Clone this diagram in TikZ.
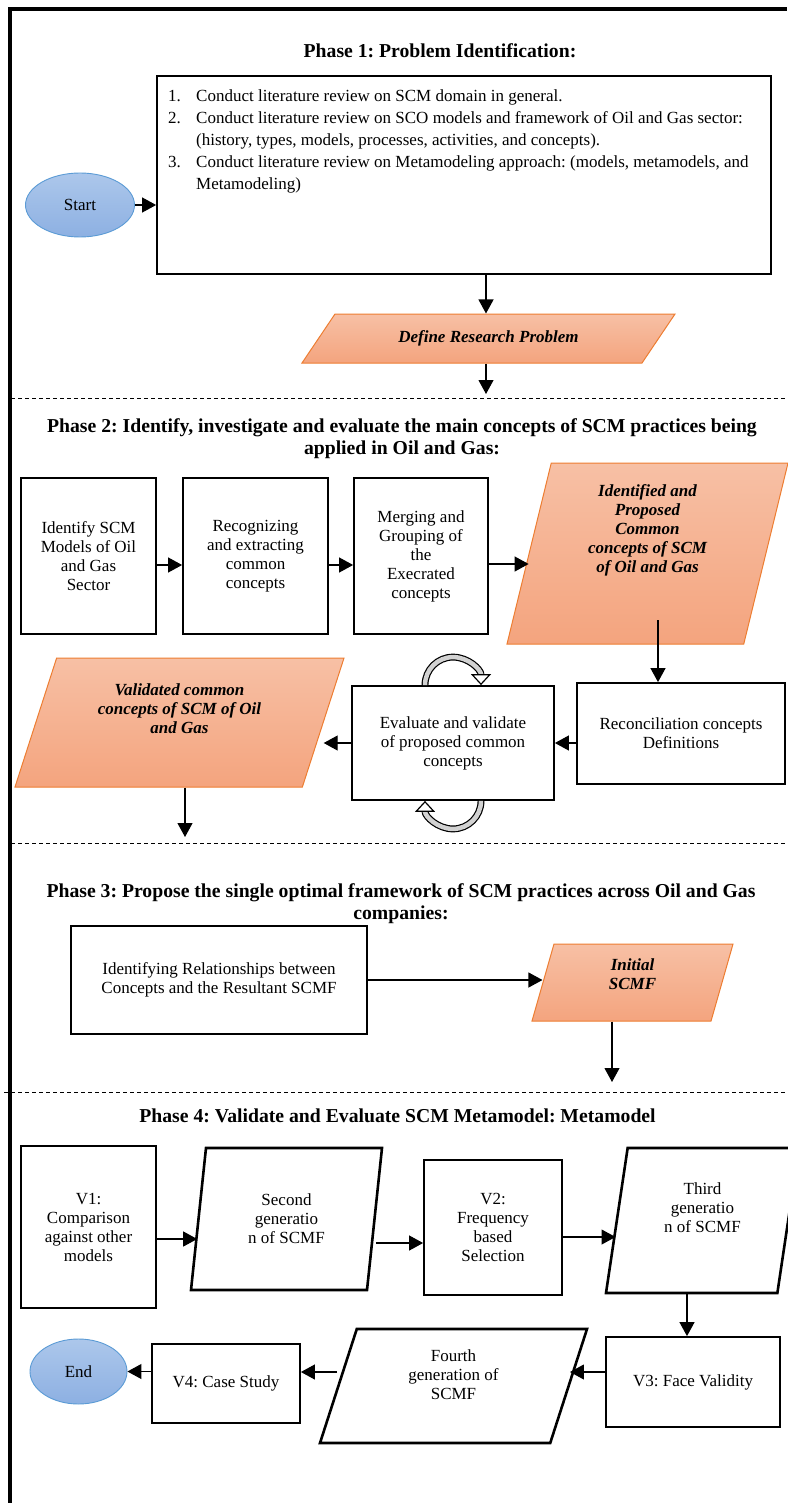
\documentclass[tikz,border=0pt]{standalone}
\usepackage{fontspec}
\setmainfont{Liberation Serif}
\usetikzlibrary{shapes.geometric,arrows.meta,calc}
\definecolor{qorange}{RGB}{237,125,49}
\definecolor{qpeach}{RGB}{247,192,165}
\definecolor{qsalmon}{RGB}{244,164,126}
\definecolor{qblue}{RGB}{91,155,213}
\definecolor{qsky}{RGB}{172,199,235}
\definecolor{qsteel}{RGB}{141,176,226}
\newcommand{\bodysize}{\fontsize{17}{19}\selectfont}
\newcommand{\titlesize}{\fontsize{19.7}{21.5}\selectfont\bfseries}
\newcommand{\dropbase}[1]{\rule[-#1]{0pt}{#1}}
\frenchspacing

\begin{document}
\begin{tikzpicture}[x=1pt, y=-1pt,
    proc/.style={draw, line width=1.8pt, align=center, font=\bodysize, inner sep=3pt},
    io/.style={trapezium, trapezium stretches body, draw, line width=2.6pt,
               align=center, font=\bodysize, inner sep=3pt},
    lean/.style 2 args={trapezium left angle=#1, trapezium right angle=#2},
    hotio/.style={io, draw=qorange, line width=1pt, top color=qpeach,
                  bottom color=qsalmon, font=\bodysize\bfseries\itshape},
    term/.style={ellipse, draw=qblue, line width=0.9pt, top color=qsky,
                 bottom color=qsteel, font=\bodysize, inner sep=0pt},
    phase/.style={font=\titlesize, align=center, anchor=base},
    arr/.style={-{Triangle[length=14pt, width=15pt]}, line width=1.1pt},
    sep/.style={line width=0.9pt, dash pattern=on 4pt off 3pt},
    loopband/.style={line width=1.2pt, double=gray!35, double distance=4.5pt,
                     -{Triangle[length=11pt, width=20pt, fill=white]}}
]
\useasboundingbox (0,0) rectangle (787,1503);

% frame and phase separators
\draw[line width=4pt] (10,1503) -- (10,9) -- (787,9);
\draw[sep] (11,398) -- (787,398);
\draw[sep] (11,843) -- (787,843);
\draw[sep] (4,1092) -- (787,1092);

% Phase 1
\node[phase] (ph1) at (440,58) {Phase 1: Problem Identification:};
\node[term, minimum width=109pt, minimum height=64pt] (start) at (80,205) {Start};
\node[draw, line width=1.8pt, minimum width=614pt, minimum height=198pt] (prob) at (464,175) {};
\node[anchor=base west, inner sep=0pt, font=\fontsize{17}{22}\selectfont] (lit) at (168,102) {%
  \begin{tabular}[t]{@{}p{28pt}@{}l@{}}
  1. & Conduct literature review on SCM domain in general.\\
  2. & Conduct literature review on SCO models and framework of Oil and Gas sector:\\
     & (history, types, models, processes, activities, and concepts).\\
  3. & Conduct literature review on Metamodeling approach: (models, metamodels, and\\
     & Metamodeling)
  \end{tabular}};
\node[hotio, lean={33.2}{146.8}, minimum width=373pt, minimum height=49pt] (drp) at (488.5,338.5) {Define Research Problem};
\coordinate (p1out) at (486,394);

\draw[arr] (start.east) -- (start.east -| prob.west);
\draw[arr] (prob.south -| p1out) -- (drp.north -| p1out);
\draw[arr] (drp.south -| p1out) -- (p1out);

% Phase 2
\node[phase] (ph2) at (402,454) {Phase 2: Identify, investigate and evaluate the main concepts of SCM practices being\\applied in Oil and Gas:};
\node[proc, minimum width=135pt, minimum height=156pt] (idm) at (88.5,556) {Identify SCM\\Models of Oil\\and Gas\\Sector};
\node[proc, minimum width=145pt, minimum height=156pt] (rec) at (255.5,556) {Recognizing\\and extracting\\common\\concepts};
\node[proc, minimum width=134pt, minimum height=156pt] (mrg) at (421,556) {Merging and\\Grouping of\\the\\Execrated\\concepts};
\node[hotio, lean={72.8}{107.2}, minimum width=281pt, minimum height=181pt] (idc) at (647.5,553.5)
  {Identified and\\Proposed\\Common\\concepts of SCM\\of Oil and Gas\dropbase{49pt}};
\node[proc, minimum width=208pt, minimum height=101pt] (rcn) at (681,733.5) {Reconciliation concepts\\Definitions};
\node[proc, minimum width=202pt, minimum height=114pt] (evl) at (453,743) {Evaluate and validate\\of proposed common\\concepts};
\node[hotio, lean={63.3}{116.7}, minimum width=329pt, minimum height=129pt] (val) at (179.5,722.5)
  {Validated common\\concepts of SCM of Oil\\and Gas\dropbase{27pt}};
\coordinate (p2out) at (185,837);

\draw[arr] (idm.east |- 0,565) -- (rec.west |- 0,565);
\draw[arr] (rec.east |- 0,565) -- (mrg.west |- 0,565);
\draw[arr] (mrg.east |- 0,564) -- (idc.west |- 0,564);
\draw[arr] (rcn.north -| 658,0) ++(0,-62) -- (rcn.north -| 658,0);
\draw[arr] (rcn.west |- evl.east) -- (evl.east);
\draw[arr] (evl.west) -- (evl.west -| val.east);
\draw[arr] (val.south -| p2out) -- (p2out);
\draw[loopband] ($(evl.north)+(-28,0)$) arc[start angle=180, end angle=0, radius=28pt];
\draw[loopband] ($(evl.south)+(28,0)$) arc[start angle=0, end angle=-180, radius=28pt];

% Phase 3
\node[phase] (ph3) at (401,919) {Phase 3: Propose the single optimal framework of SCM practices across Oil and Gas\\companies:};
\node[proc, minimum width=296pt, minimum height=108pt] (rel) at (219,980) {Identifying Relationships between\\Concepts and the Resultant SCMF};
\node[hotio, lean={67.4}{112.6}, minimum width=201pt, minimum height=77pt] (ini) at (632.5,982.5)
  {Initial\\SCMF\dropbase{16pt}};
\coordinate (p3out) at (612,1082);

\draw[arr] (rel.east) -- (rel.east -| ini.west);
\draw[arr] (ini.south -| p3out) -- (p3out);

% Phase 4
\node[phase] (ph4) at (397.5,1122) {Phase 4: Validate and Evaluate SCM Metamodel: Metamodel};
\node[proc, minimum width=135pt, minimum height=162pt] (v1) at (88.5,1227) {V1:\\Comparison\\against other\\models};
\node[io, lean={75}{105}, minimum width=191pt, minimum height=142pt] (sec) at (286.5,1219) {Second\\generatio\\n of SCMF};
\node[proc, minimum width=138pt, minimum height=135pt] (v2) at (493,1227.5) {V2:\\Frequency\\based\\Selection};
\node[io, lean={75}{105}, minimum width=193pt, minimum height=145pt] (thr) at (702.5,1220.5)
  {Third\\generatio\\n of SCMF\dropbase{25pt}};
\node[proc, minimum width=174pt, minimum height=90pt] (v3) at (693,1382) {V3: Face Validity};
\node[io, lean={64.7}{115.3}, minimum width=267pt, minimum height=114pt] (fth) at (453.5,1386)
  {Fourth\\generation of\\SCMF\dropbase{22pt}};
\node[proc, minimum width=148pt, minimum height=79pt] (v4) at (226,1383.5) {V4: Case Study};
\node[term, minimum width=97pt, minimum height=65pt] (finish) at (78.5,1371.5) {End};

\draw[arr] (v1.east |- 0,1239) -- (sec.west |- 0,1239);
\draw[arr] (sec.east |- 0,1243) -- (v2.west |- 0,1243);
\draw[arr] (v2.east |- 0,1237) -- (thr.west |- 0,1237);
\draw[arr] (thr.south -| 687,0) -- (v3.north -| 687,0);
\draw[arr] (v3.west |- 0,1372) -- (fth.east |- 0,1372);
\draw[arr] (fth.west |- 0,1372) -- (v4.east |- 0,1372);
\draw[arr] (v4.west |- finish.east) -- (finish.east);

\end{tikzpicture}
\end{document}
